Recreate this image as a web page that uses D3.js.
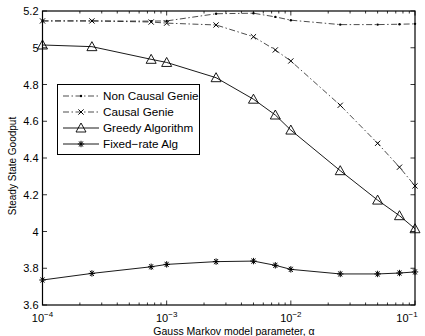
<!DOCTYPE html>
<html>
<head>
<meta charset="utf-8">
<script src="https://cdn.jsdelivr.net/npm/d3@7"></script>
<style>
  body { margin: 0; background: #fff; }
  svg { font-family: "Liberation Sans", Arial, sans-serif; }
</style>
</head>
<body>
<svg></svg>
<script>
let w = 425;
let h = 336;

// data
const alphas = [1e-4, 2.5e-4, 7.5e-4, 1e-3, 2.5e-3, 5e-3, 7.5e-3, 1e-2, 2.5e-2, 5e-2, 7.5e-2, 1e-1];
const nonCausal = [5.146, 5.146, 5.145, 5.146, 5.185, 5.188, 5.168, 5.150, 5.126, 5.126, 5.128, 5.130];
const causal = [5.146, 5.146, 5.140, 5.134, 5.124, 5.060, 4.988, 4.928, 4.687, 4.480, 4.350, 4.248];
const greedy = [5.015, 5.006, 4.937, 4.920, 4.837, 4.720, 4.634, 4.552, 4.331, 4.171, 4.086, 4.015];
const fixedRate = [3.736, 3.772, 3.808, 3.821, 3.836, 3.839, 3.816, 3.794, 3.769, 3.769, 3.774, 3.780];
const yTicks = [3.6, 3.8, 4, 4.2, 4.4, 4.6, 4.8, 5, 5.2];
const xTicks = [1e-4, 1e-3, 1e-2, 1e-1];
const seriesNames = ['Non Causal Genie', 'Causal Genie', 'Greedy Algorithm', 'Fixed\u2212rate Alg'];

const pLeft = 42.5, pRight = 415, pTop = 11, pBottom = 305;

const svg = d3.select('svg')
  .attr('width', w)
  .attr('height', h)

// Scales
const xScale = d3.scaleLog()
  .domain([1e-4, 1e-1])
  .range([pLeft, pRight])

const yScale = d3.scaleLinear()
  .domain([3.6, 5.2])
  .range([pBottom, pTop])

// minor ticks
const minor = []
for (let e = -4; e < -1; e++) {
  for (let m = 2; m <= 9; m++) minor.push(m * Math.pow(10, e))
}

const ticks = svg.append('g').attr('stroke', '#000').attr('stroke-width', 0.8)
minor.forEach(v => {
  const x = xScale(v)
  ticks.append('line').attr('x1', x).attr('x2', x).attr('y1', pBottom).attr('y2', pBottom - 2.5)
  ticks.append('line').attr('x1', x).attr('x2', x).attr('y1', pTop).attr('y2', pTop + 2.5)
})
xTicks.forEach(v => {
  const x = xScale(v)
  ticks.append('line').attr('x1', x).attr('x2', x).attr('y1', pBottom).attr('y2', pBottom - 4.5)
  ticks.append('line').attr('x1', x).attr('x2', x).attr('y1', pTop).attr('y2', pTop + 4.5)
})
yTicks.forEach(v => {
  const y = yScale(v)
  ticks.append('line').attr('x1', pLeft).attr('x2', pLeft + 4.5).attr('y1', y).attr('y2', y)
  ticks.append('line').attr('x1', pRight).attr('x2', pRight - 4.5).attr('y1', y).attr('y2', y)
})

// tick labels
svg.append('g').selectAll('text')
  .data(yTicks)
  .enter()
  .append('text')
  .attr('x', pLeft - 4)
  .attr('y', d => yScale(d) + 4)
  .attr('text-anchor', 'end')
  .attr('font-size', 11)
  .text(d => d3.format('~g')(d))

const xl = svg.append('g').selectAll('text')
  .data(xTicks)
  .enter()
  .append('text')
  .attr('x', d => Math.min(xScale(d), 407))
  .attr('y', 322)
  .attr('text-anchor', 'middle')
  .attr('font-size', 11)
xl.append('tspan').text('10')
xl.append('tspan')
  .attr('dy', -5)
  .attr('font-size', 8)
  .text(d => '\u2212' + Math.round(-Math.log10(d)))

// axis titles
svg.append('text')
  .attr('x', 234)
  .attr('y', 335)
  .attr('text-anchor', 'middle')
  .attr('font-size', 10.5)
  .text('Gauss Markov model parameter, \u03b1')

svg.append('text')
  .attr('transform', 'translate(16,166) rotate(-90)')
  .attr('text-anchor', 'middle')
  .attr('font-size', 10)
  .text('Steady State Goodput')

// lines
const line = d3.line()
  .x(d => xScale(d[0]))
  .y(d => yScale(d[1]))

const dashDot = '6,2.5,1.5,2.5'
const series = [
  { vals: nonCausal, dash: dashDot, marker: 'dot' },
  { vals: causal, dash: dashDot, marker: 'x' },
  { vals: greedy, dash: null, marker: 'tri' },
  { vals: fixedRate, dash: null, marker: 'star' }
]

function drawMarker(g, type, x, y) {
  if (type === 'dot') {
    g.append('circle').attr('cx', x).attr('cy', y).attr('r', 1.2).attr('fill', '#000')
  } else if (type === 'x') {
    const s = 2.6
    g.append('path')
      .attr('d', `M${x - s},${y - s}L${x + s},${y + s}M${x - s},${y + s}L${x + s},${y - s}`)
      .attr('stroke', '#000').attr('stroke-width', 1)
  } else if (type === 'tri') {
    const s = 5
    g.append('path')
      .attr('d', `M${x},${y - s}L${x + s},${y + s * 0.8}L${x - s},${y + s * 0.8}Z`)
      .attr('fill', 'none').attr('stroke', '#000').attr('stroke-width', 0.9)
  } else if (type === 'star') {
    const s = 3.2
    let d = `M${x - s},${y}L${x + s},${y}`
    d += `M${x - s * 0.6},${y - s * 0.8}L${x + s * 0.6},${y + s * 0.8}`
    d += `M${x - s * 0.6},${y + s * 0.8}L${x + s * 0.6},${y - s * 0.8}`
    d += `M${x},${y - s}L${x},${y + s}`
    g.append('path').attr('d', d).attr('stroke', '#000').attr('stroke-width', 1)
  }
}

series.forEach(s => {
  const pts = alphas.map((a, i) => [a, s.vals[i]])
  svg.append('path')
    .datum(pts)
    .attr('d', line)
    .attr('fill', 'none')
    .attr('stroke', '#000')
    .attr('stroke-width', s.dash ? 0.7 : 0.9)
    .attr('stroke-dasharray', s.dash)
  const mg = svg.append('g')
  pts.forEach(p => drawMarker(mg, s.marker, xScale(p[0]), yScale(p[1])))
})

// frame
svg.append('rect')
  .attr('x', pLeft)
  .attr('y', pTop)
  .attr('width', pRight - pLeft)
  .attr('height', pBottom - pTop)
  .attr('fill', 'none')
  .attr('stroke', '#000')
  .attr('stroke-width', 1.2)

// Legend
const legend = svg.append('g')
legend.append('rect')
  .attr('x', 57.5)
  .attr('y', 84.5)
  .attr('width', 142)
  .attr('height', 70)
  .attr('fill', '#fff')
  .attr('stroke', '#000')
  .attr('stroke-width', 1)

seriesNames.forEach((name, i) => {
  const y = 96 + i * 16
  legend.append('line')
    .attr('x1', 63).attr('x2', 99)
    .attr('y1', y).attr('y2', y)
    .attr('stroke', '#000')
    .attr('stroke-width', series[i].dash ? 0.7 : 0.9)
    .attr('stroke-dasharray', series[i].dash)
  drawMarker(legend, series[i].marker, 81, y)
  legend.append('text')
    .attr('x', 103)
    .attr('y', y + 4)
    .attr('font-size', 11.7)
    .text(name)
})
</script>
</body>
</html>
